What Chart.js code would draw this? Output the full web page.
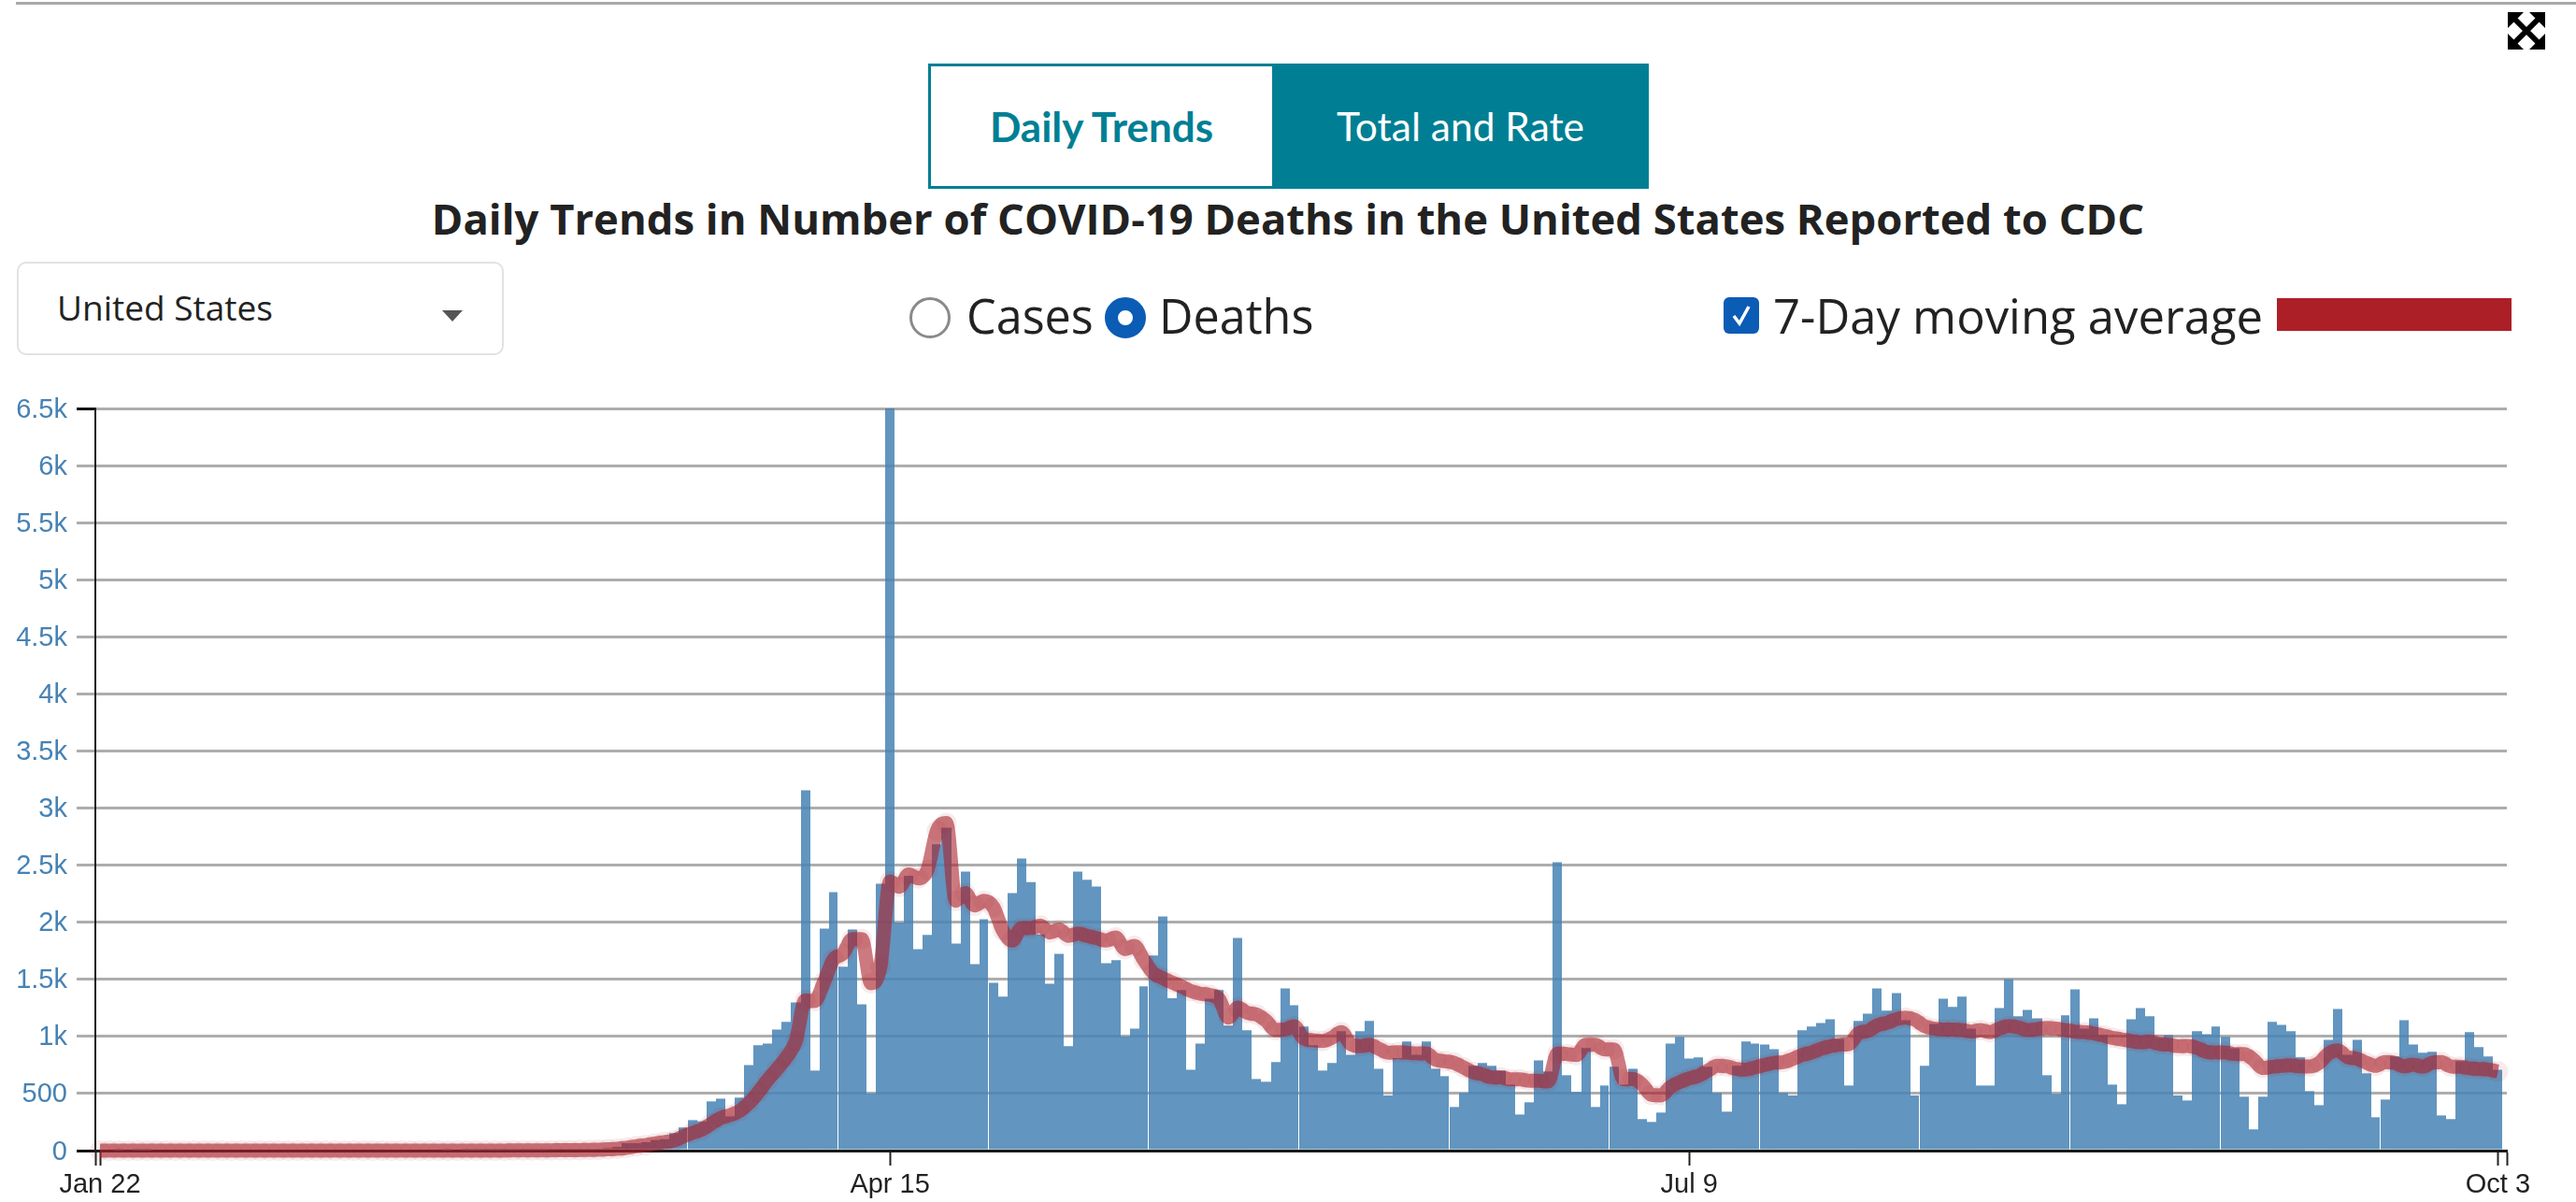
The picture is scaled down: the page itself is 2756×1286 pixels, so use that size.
<!DOCTYPE html>
<html>
<head>
<meta charset="utf-8">
<title>Daily Trends in Number of COVID-19 Deaths</title>
<script src="https://cdn.jsdelivr.net/npm/chart.js@4/dist/chart.umd.min.js"></script>
<style>
  html, body { margin: 0; padding: 0; background: #fff; }
  body { width: 2756px; height: 1286px; position: relative; overflow: hidden; font-family: "Open Sans", sans-serif; color: #222; }
  canvas { position: absolute; left: 0; top: 0; }
  .abs { position: absolute; white-space: nowrap; }
  #topline { left: 17px; right: 0; top: 2px; height: 3px; background: #a9a9a9; }
  #tabDaily { left: 993px; top: 68px; width: 368px; height: 134px; box-sizing: border-box; border: 3px solid #007f94; border-right: 0; background: #fff; color: #007f94; font: 700 44px/128px Lato, sans-serif; text-align: center; }
  #tabTotal { left: 1361px; top: 68px; width: 403px; height: 134px; background: #007f94; color: #fff; font: 400 42.5px/134px Lato, sans-serif; text-align: center; }
  #title { left: 0; width: 2756px; top: 203px; text-align: center; font-weight: 700; font-size: 45.4px; line-height: 60px; color: #222; }
  #dropdown { left: 18px; top: 280px; width: 521px; height: 100px; box-sizing: border-box; border: 2px solid #e2e2e2; border-radius: 10px; }
  #dropdownText { left: 61px; top: 304px; font-size: 37px; line-height: 50px; }
  #caret { left: 473px; top: 332px; width: 0; height: 0; border-left: 11px solid transparent; border-right: 11px solid transparent; border-top: 12px solid #555; }
  .radio { top: 318px; width: 44px; height: 44px; box-sizing: border-box; border-radius: 50%; }
  #radioCases { left: 973px; border: 3px solid #8a8a8a; background: #fff; }
  #radioDeaths { left: 1182px; border: 14px solid #0b5cb5; background: #fff; }
  .big { top: 304px; font-size: 50.3px; line-height: 68px; }
  #labelCases { left: 1034px; }
  #labelDeaths { left: 1240px; }
  #check { left: 1844px; top: 318px; width: 38px; height: 39px; border-radius: 6px; background: #0b5cb5; }
  #labelAvg { left: 1897px; font-size: 50.8px; }
  #swatch { left: 2436px; top: 319px; width: 251px; height: 35px; background: #ad1f27; }
  #expand { left: 2683px; top: 13px; }
</style>
</head>
<body>
<div class="abs" id="topline"></div>
<svg class="abs" id="expand" width="40" height="40" viewBox="0 0 40 40">
  <path d="M6 6 L34 34 M34 6 L6 34" stroke="#000" stroke-width="6" fill="none"/>
  <path d="M0 0 H17 L0 17 Z M40 0 V17 L23 0 Z M0 40 V23 L17 40 Z M40 40 H23 L40 23 Z" fill="#000"/>
</svg>
<div class="abs" id="tabDaily">Daily Trends</div>
<div class="abs" id="tabTotal">Total and Rate</div>
<div class="abs" id="title">Daily Trends in Number of COVID-19 Deaths in the United States Reported to CDC</div>
<div class="abs" id="dropdown"></div>
<div class="abs" id="dropdownText">United States</div>
<div class="abs" id="caret"></div>
<div class="abs radio" id="radioCases"></div>
<div class="abs big" id="labelCases">Cases</div>
<div class="abs radio" id="radioDeaths"></div>
<div class="abs big" id="labelDeaths">Deaths</div>
<div class="abs" id="check">
  <svg width="38" height="39" viewBox="0 0 38 39"><path d="M11 20 L17 28 L27 10" stroke="#fff" stroke-width="3.5" fill="none"/></svg>
</div>
<div class="abs big" id="labelAvg">7-Day moving average</div>
<div class="abs" id="swatch"></div>
<canvas id="chartDeaths" width="2756" height="1286"></canvas>

<script>
// values, one per day starting Jan 22
const dailyDeaths = [
  0, 0, 1, 0, 1, 1, 0, 0, 0, 0,
  0, 0, 0, 0, 0, 0, 0, 0, 0, 0,
  0, 0, 0, 0, 0, 0, 0, 0, 0, 0,
  0, 0, 0, 0, 0, 0, 0, 1, 0, 2,
  1, 3, 2, 3, 2, 4, 4, 4, 6, 9,
  6, 7, 6, 16, 22, 33, 65, 65, 74, 93,
  100, 153, 202, 267, 256, 431, 455, 300, 464, 750,
  922, 938, 1061, 1127, 1298, 3156, 701, 1945, 2264, 1610,
  1937, 1282, 502, 2338, 6800, 1997, 2406, 1765, 1888, 2684,
  2829, 1814, 2444, 1634, 2027, 1470, 1348, 2256, 2559, 2352,
  1893, 1462, 1724, 914, 2444, 2371, 2313, 1642, 1667, 1001,
  1069, 1438, 1708, 2051, 1334, 1405, 709, 938, 1331, 1405,
  1094, 1863, 1053, 627, 603, 775, 1421, 1274, 1086, 922,
  701, 767, 1045, 840, 1045, 1135, 717, 483, 810, 955,
  840, 955, 717, 652, 382, 505, 742, 767, 742, 701,
  578, 316, 423, 791, 693, 2526, 660, 513, 898, 382,
  570, 734, 578, 717, 276, 251, 333, 938, 996, 807,
  816, 734, 505, 341, 742, 955, 938, 930, 889, 505,
  483, 1053, 1086, 1118, 1151, 979, 570, 1135, 1200, 1421,
  1225, 1380, 1143, 483, 742, 1110, 1331, 1258, 1348, 1069,
  570, 570, 1249, 1503, 1176, 1233, 1159, 660, 497, 1184,
  1413, 1069, 1159, 1012, 578, 406, 1151, 1249, 1176, 988,
  1012, 483, 439, 1045, 1020, 1086, 996, 897, 472, 186,
  472, 1127, 1102, 1045, 816, 521, 398, 971, 1241, 840,
  971, 677, 292, 447, 824, 1143, 930, 857, 865, 308,
  276, 783, 1037, 906, 824, 709
];

const movingAverage = [
  0, 0, 0, 0, 0, 0, 0, 0, 0, 0,
  0, 0, 0, 0, 0, 0, 0, 0, 0, 0,
  0, 0, 0, 0, 0, 0, 0, 0, 0, 0,
  0, 0, 0, 0, 0, 0, 0, 0, 0, 0,
  0, 1, 1, 1, 2, 2, 2, 3, 3, 4,
  4, 5, 6, 8, 12, 16, 25, 38, 48, 62,
  75, 87, 123, 155, 183, 237, 286, 311, 346, 415,
  510, 619, 715, 818, 960, 1315, 1310, 1479, 1675, 1724,
  1852, 1852, 1465, 1615, 2357, 2311, 2420, 2384, 2461, 2802,
  2870, 2188, 2256, 2147, 2188, 2133, 1929, 1839, 1948, 1948,
  1970, 1910, 1937, 1880, 1901, 1880, 1860, 1839, 1866, 1765,
  1792, 1670, 1555, 1511, 1473, 1438, 1397, 1375, 1364, 1329,
  1165, 1252, 1206, 1192, 1138, 1056, 1061, 1089, 982, 966,
  960, 988, 1037, 933, 914, 928, 892, 857, 862, 857,
  851, 851, 797, 783, 769, 728, 687, 668, 641, 641,
  625, 625, 611, 611, 606, 851, 846, 837, 928, 928,
  887, 887, 625, 628, 578, 488, 483, 557, 600, 633,
  655, 701, 742, 737, 715, 709, 728, 750, 769, 775,
  802, 837, 859, 892, 914, 928, 933, 1028, 1048, 1097,
  1118, 1151, 1165, 1146, 1091, 1069, 1061, 1061, 1056, 1042,
  1056, 1037, 1069, 1091, 1080, 1056, 1064, 1075, 1069, 1056,
  1042, 1037, 1026, 1009, 988, 974, 960, 947, 955, 933,
  928, 914, 917, 900, 865, 859, 859, 846, 846, 797,
  723, 734, 742, 748, 737, 737, 769, 851, 878, 818,
  805, 769, 742, 775, 769, 737, 753, 734, 769, 775,
  737, 734, 720, 715, 709, 693
];

const xTickDays = [0, 84, 169, 255];
const xTickLabels = ['Jan 22', 'Apr 15', 'Jul 9', 'Oct 3'];
const yTickLabels = ['0', '500', '1k', '1.5k', '2k', '2.5k', '3k', '3.5k', '4k', '4.5k', '5k', '5.5k', '6k', '6.5k'];

// days after which the original shows a thin white seam between two bars
const seamDays = [62, 78, 94, 111, 127, 143, 160, 176, 193, 209, 225, 242];

const X_MIN = -0.5;
const X_MAX = 255.95;

// make each bar one whole day wide, snapped to whole pixels so neighbours join without a hairline
const snapBars = {
  id: 'snapBars',
  afterDatasetUpdate(chart, args) {
    const meta = chart.getDatasetMeta(args.index);
    if (meta.type !== 'bar') return;
    const xScale = chart.scales.x;
    meta.data.forEach((bar, i) => {
      const left = Math.round(xScale.getPixelForValue(i - 0.5));
      let right = Math.round(xScale.getPixelForValue(i + 0.5));
      if (seamDays.includes(i)) right -= 1;
      bar.x = (left + right) / 2;
      bar.width = right - left;
    });
  }
};

new Chart(document.getElementById('chartDeaths').getContext('2d'), {
  type: 'bar',
  plugins: [snapBars],
  data: {
    datasets: [
      {
        type: 'line',
        order: 1,
        data: movingAverage.map((v, i) => ({ x: i, y: v })),
        borderColor: 'rgba(170,34,44,0.6)',
        borderWidth: 15,
        borderCapStyle: 'butt',
        borderJoinStyle: 'round',
        cubicInterpolationMode: 'monotone',
        pointRadius: 11,
        pointBorderWidth: 0,
        pointBackgroundColor: 'rgba(170,34,44,0.09)',
        clip: false
      },
      {
        type: 'bar',
        order: 2,
        data: dailyDeaths.map((v, i) => ({ x: i, y: v })),
        backgroundColor: 'rgba(70,130,180,0.85)',
        borderWidth: 0,
        inflateAmount: 0,
        categoryPercentage: 1,
        barPercentage: 1,
        grouped: false
      }
    ]
  },
  options: {
    responsive: false,
    animation: false,
    events: [],
    layout: { padding: { left: 0, right: 74, top: 437, bottom: 0 } },
    plugins: { legend: { display: false }, tooltip: { enabled: false } },
    scales: {
      x: {
        type: 'linear',
        offset: false,
        min: X_MIN,
        max: X_MAX,
        afterFit: scale => { scale.height = 55; },
        afterBuildTicks: scale => {
          scale.ticks = [X_MIN, ...xTickDays, X_MAX].map(v => ({ value: v }));
        },
        grid: { offset: false, drawOnChartArea: false, drawTicks: true, tickLength: 16, tickColor: '#222', tickWidth: 2 },
        border: { display: true, color: '#1a1a1a', width: 3 },
        ticks: {
          autoSkip: false,
          maxRotation: 0,
          padding: 4,
          color: '#222',
          font: { family: '"Liberation Sans"', size: 29 },
          callback: value => {
            const i = xTickDays.indexOf(value);
            return i >= 0 ? xTickLabels[i] : '';
          }
        }
      },
      y: {
        min: 0,
        max: 6500,
        afterFit: scale => { scale.width = 102; },
        grid: {
          color: '#adadad',
          lineWidth: 3,
          tickLength: 20,
          tickWidth: 3,
          tickColor: ctx => (ctx.index === 0 || ctx.index === yTickLabels.length - 1) ? '#111' : '#adadad'
        },
        border: { display: true, color: '#1a1a1a', width: 2 },
        ticks: {
          stepSize: 500,
          padding: 10,
          labelOffset: 1.5,
          color: '#4682b4',
          font: { family: '"Liberation Sans"', size: 29 },
          callback: (value, index) => yTickLabels[index]
        }
      }
    }
  }
});
</script>
</body>
</html>
